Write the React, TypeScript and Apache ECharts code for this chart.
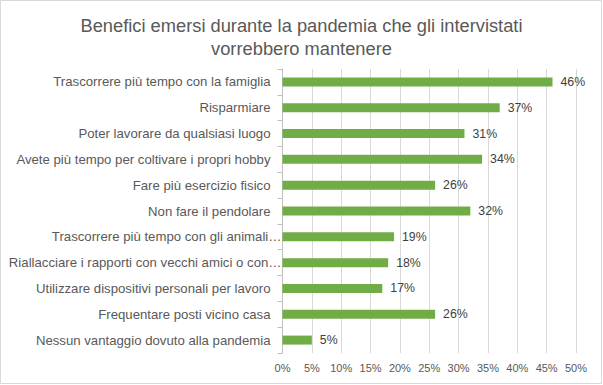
import React, { useEffect, useRef } from "react";
import * as echarts from "echarts";

const titleLines = ["Benefici emersi durante la pandemia che gli intervistati", "vorrebbero mantenere"];
const categories = [
  "Trascorrere più tempo con la famiglia",
  "Risparmiare",
  "Poter lavorare da qualsiasi luogo",
  "Avete più tempo per coltivare i propri hobby",
  "Fare più esercizio fisico",
  "Non fare il pendolare",
  "Trascorrere più tempo con gli animali…",
  "Riallacciare i rapporti con vecchi amici o con…",
  "Utilizzare dispositivi personali per lavoro",
  "Frequentare posti vicino casa",
  "Nessun vantaggio dovuto alla pandemia",
];
const values = [46, 37, 31, 34, 26, 32, 19, 18, 17, 26, 5];

export default function App() {
  const ref = useRef<HTMLDivElement>(null);
  useEffect(() => {
    document.body.style.margin = "0";
    const chart = echarts.init(ref.current!, null, { renderer: "svg" });
    const font = "Liberation Sans, Arial, sans-serif";
    const labelStyle = { fontFamily: font, fontSize: 13.2, color: "#595959" };
    chart.setOption({
      animation: false,
      backgroundColor: "#ffffff",
      title: {
        text: titleLines.join("\n"),
        left: "center",
        top: 9,
        textStyle: { fontFamily: font, fontSize: 18.3, fontWeight: "normal", color: "#595959", lineHeight: 23 },
      },
      graphic: [
        {
          type: "rect",
          shape: { x: 0.5, y: 0.5, width: 601, height: 383 },
          style: { fill: "none", stroke: "#d9d9d9", lineWidth: 1 },
          silent: true,
        },
      ],
      grid: { left: 282.5, right: 27, top: 69, bottom: 32, containLabel: false, outerBoundsMode: "none" },
      xAxis: {
        type: "value",
        min: 0,
        max: 50,
        interval: 5,
        axisLabel: { formatter: "{value}%", fontFamily: font, fontSize: 11, color: "#595959", margin: 9 },
        axisLine: { show: false },
        axisTick: { show: false },
        splitLine: { show: true, lineStyle: { color: "#d9d9d9", width: 1 } },
      },
      yAxis: {
        type: "category",
        data: categories,
        inverse: true,
        axisLine: { show: true, lineStyle: { color: "#bfbfbf", width: 1 } },
        axisTick: { show: true, length: 5, lineStyle: { color: "#bfbfbf" } },
        axisLabel: {
          ...labelStyle,
          margin: 1,
          formatter: (v: string) => (v.endsWith("…") ? `{t|${v}}` : `{n|${v}}`),
          rich: {
            n: { ...labelStyle, padding: [0, 11, 0, 0] },
            t: { ...labelStyle, padding: [0, 0, 0, 0] },
          },
        },
      },
      series: [
        {
          type: "bar",
          data: values,
          barWidth: 9,
          itemStyle: { color: "#70ad47" },
          label: {
            show: true,
            position: "right",
            distance: 8,
            formatter: "{c}%",
            fontFamily: font,
            fontSize: 12.3,
            color: "#404040",
          },
        },
      ],
    });
    return () => chart.dispose();
  }, []);
  return <div ref={ref} style={{ position: "absolute", left: 0, top: 0, width: 603, height: 385 }} />;
}
